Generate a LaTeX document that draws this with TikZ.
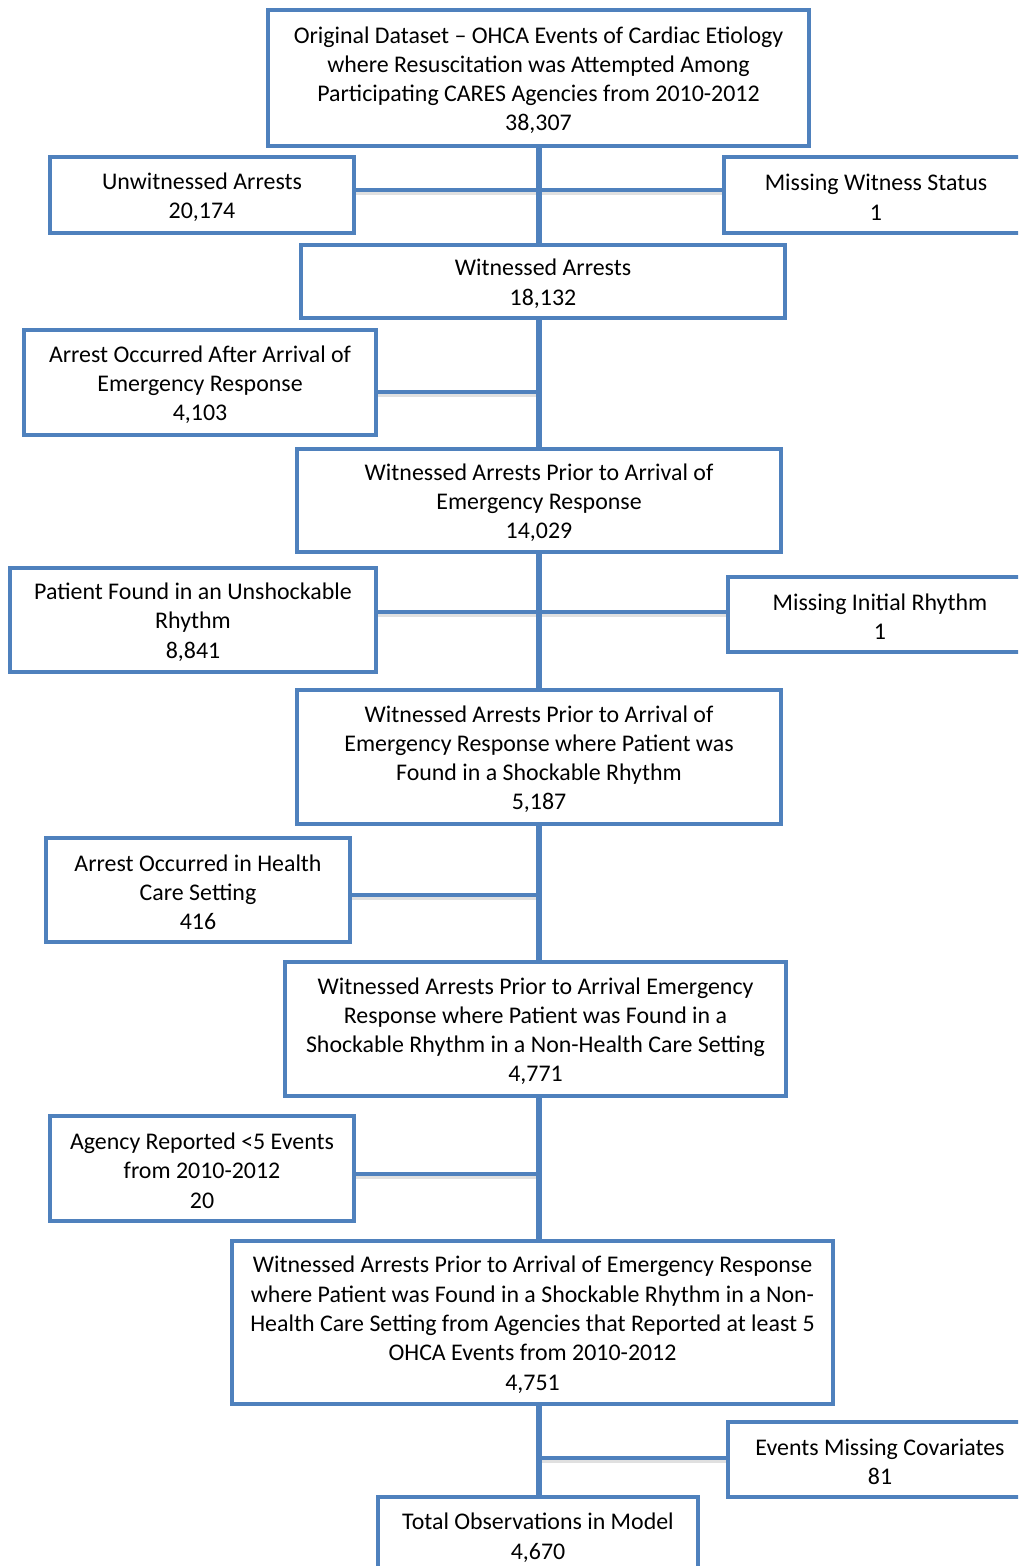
\documentclass[tikz,border=0pt]{standalone}
\usepackage{fontspec}
\setmainfont{Carlito}
\definecolor{obl}{HTML}{4F81BD}
\tikzset{
  box/.style={draw=obl, line width=4pt, fill=white, align=center, inner sep=0pt,
    font=\fontsize{23.9}{29.3}\selectfont},
  trunk/.style={draw=obl, line width=6pt},
  conn/.style={draw=obl, line width=4.5pt,
    preaction={draw=black!40, line width=5pt, opacity=0.3, transform canvas={yshift=-2.5pt}}},
}
\newcommand{\bx}[6]{% name, x1,y1,x2,y2, text
  \node[box, minimum width={#4-#2}, minimum height={#5-#3}] (#1) at ({(#2+#4)/2},{(#3+#5)/2}) {\rule{0pt}{21pt}#6};}
\begin{document}
\begin{tikzpicture}[x=1pt,y=-1pt]
\clip (0,0) rectangle (1018,1566);
\fill[white] (0,0) rectangle (1018,1566);
% coordinates on trunk for branches
\coordinate (j1) at (539,190);
\coordinate (j2) at (539,392);
\coordinate (j3) at (539,612);
\coordinate (j4) at (539,895);
\coordinate (j5) at (539,1174);
\coordinate (j6) at (539,1458);
% nodes
\bx{n1}{268}{10}{809}{146}{Original Dataset -- OHCA Events of Cardiac Etiology\\where Resuscitation was Attempted Among\\Participating CARES Agencies from 2010-2012\\38,307}
\bx{n2}{50}{157}{354}{233}{Unwitnessed Arrests\\20,174}
\bx{n3}{724}{157}{1028}{233}{Missing Witness Status\\1}
\bx{n4}{301}{245}{785}{318}{Witnessed Arrests\\18,132}
\bx{n5}{24}{330}{376}{435}{Arrest Occurred After Arrival of\\Emergency Response\\4,103}
\bx{n6}{297}{449}{781}{552}{Witnessed Arrests Prior to Arrival of\\Emergency Response\\14,029}
\bx{n7}{10}{568}{376}{672}{Patient Found in an Unshockable\\Rhythm\\8,841}
\bx{n8}{728}{577}{1032}{652}{Missing Initial Rhythm\\1}
\bx{n9}{297}{690}{781}{824}{Witnessed Arrests Prior to Arrival of\\Emergency Response where Patient was\\Found in a Shockable Rhythm\\5,187}
\bx{n10}{46}{838}{350}{942}{Arrest Occurred in Health\\Care Setting\\416}
\bx{n11}{285}{962}{786}{1096}{Witnessed Arrests Prior to Arrival Emergency\\Response where Patient was Found in a\\Shockable Rhythm in a Non-Health Care Setting\\4,771}
\bx{n12}{50}{1116}{354}{1221}{Agency Reported <5 Events\\from 2010-2012\\20}
\bx{n13}{232}{1241}{833}{1404}{Witnessed Arrests Prior to Arrival of Emergency Response\\where Patient was Found in a Shockable Rhythm in a Non-\\Health Care Setting from Agencies that Reported at least 5\\OHCA Events from 2010-2012\\4,751}
\bx{n14}{728}{1422}{1032}{1497}{Events Missing Covariates\\81}
\bx{n15}{378}{1497}{698}{1574}{Total Observations in Model\\4,670}
% branches
\draw[conn] (n2.east |- j1) -- (j1);
\draw[conn] (j1) -- (n3.west |- j1);
\draw[conn] (n5.east |- j2) -- (j2);
\draw[conn] (n7.east |- j3) -- (j3);
\draw[conn] (j3) -- (n8.west |- j3);
\draw[conn] (n10.east |- j4) -- (j4);
\draw[conn] (n12.east |- j5) -- (j5);
\draw[conn] (j6) -- (n14.west |- j6);
% trunk
\draw[trunk] (n1.south -| j1) -- (n4.north -| j1);
\draw[trunk] (n4.south -| j1) -- (n6.north -| j1);
\draw[trunk] (n6.south -| j1) -- (n9.north -| j1);
\draw[trunk] (n9.south -| j1) -- (n11.north -| j1);
\draw[trunk] (n11.south -| j1) -- (n13.north -| j1);
\draw[trunk] (n13.south -| j1) -- (n15.north -| j1);
\end{tikzpicture}
\end{document}
